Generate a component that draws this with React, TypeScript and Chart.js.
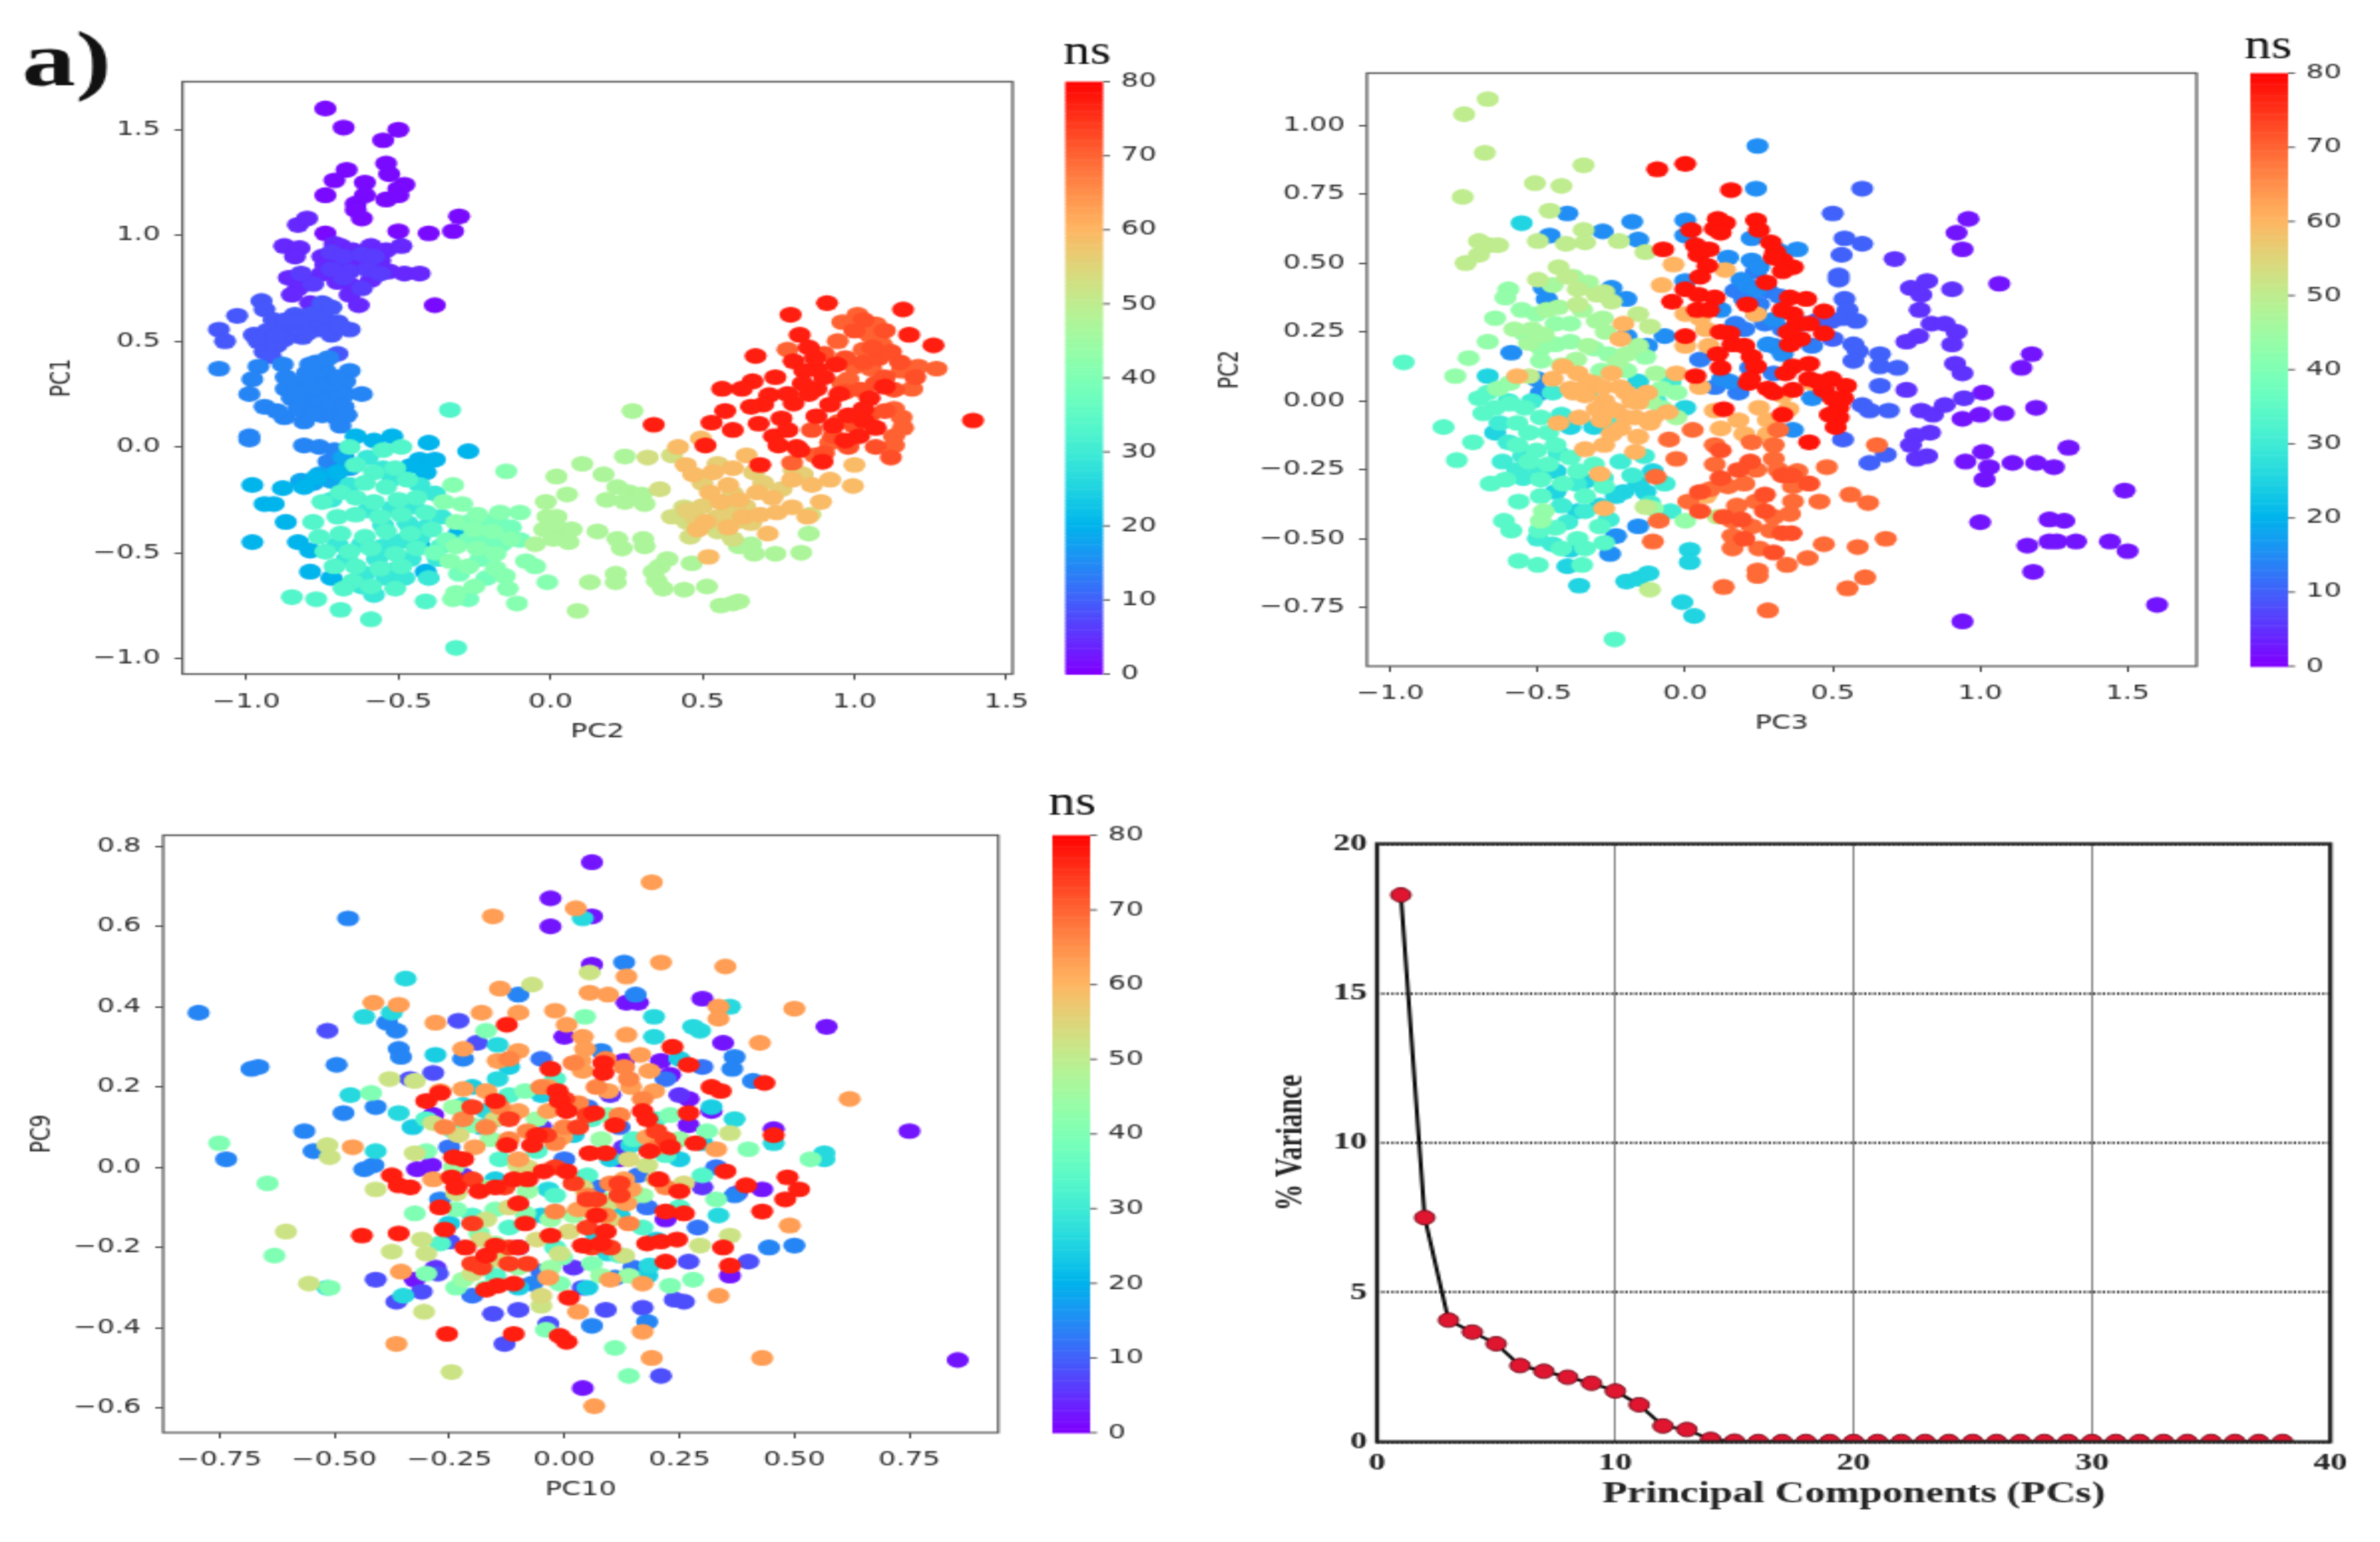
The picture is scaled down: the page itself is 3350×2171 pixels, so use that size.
import React, { useEffect, useRef } from "react";
import { Chart, registerables } from "chart.js";

Chart.register(...registerables);

// [ns, [x, y, x, y, ...]] : PC2 (x) against PC1 (y)
const pc2pc1: [number, number[]][] = [
  [1, [-.74,1.60,-.68,1.51,-.50,1.50,-.55,1.45,-.54,1.34,-.67,1.31,-.53,1.29,-.71,1.26,-.61,1.25,-.48,1.24,-.50,1.22,-.61,1.19,-.74,1.19,-.54,1.17,-.50,1.19,-.64,1.15,-.64,1.12,-.62,1.08,-.30,1.09,-.32,1.02,-.40,1.01,-.50,1.02,-.74,1.01,-.38,.67]],
  [4, [-.83,1.05,-.80,1.08,-.875,.95,-.825,.94,-.84,.90,-.75,.90,-.71,.96,-.69,.95,-.65,.93,-.59,.95,-.54,.93,-.49,.95,-.74,.86,-.69,.87,-.64,.89,-.61,.86,-.56,.88,-.53,.83,-.48,.82,-.43,.82,-.75,.82,-.70,.78,-.65,.76,-.59,.79,-.66,.72,-.63,.67,-.86,.80,-.81,.80,-.83,.75,-.85,.72,-.79,.68,-.74,.67]],
  [6, [-.72,.92,-.68,.90,-.66,.83,-.62,.91,-.58,.90,-.60,.84,-.68,.80,-.72,.84,-.56,.82,-.78,.77,-.82,.82,-.62,.75]],
  [9, [-.95,.69,-.94,.65,-1.03,.62,-1.09,.555,-1.07,.50,-.91,.60,-.84,.625,-.875,.555,-.825,.58,-.79,.60,-.74,.60,-.70,.59,-.66,.555,-.77,.555,-.72,.53,-.815,.52,-.875,.51,-.975,.53,-.96,.50,-.94,.45,-.70,.44,-.85,.58,-.80,.54,-.76,.58,-.73,.55,-.69,.57,-.87,.60,-.93,.55,-.90,.48,-.82,.60,-.78,.63,-.75,.68,-.72,.66,-.92,.43,-.90,.53]],
  [14, [-1.09,.37,-.96,.38,-.98,.32,-.99,.25,-.94,.19,-.88,.39,-.87,.33,-.87,.275,-.85,.23,-.875,.14,-.81,.12,-.79,.39,-.77,.33,-.80,.29,-.75,.275,-.71,.25,-.66,.36,-.675,.31,-.675,.25,-.62,.25,-.81,.23,-.76,.22,-.80,.17,-.75,.15,-.70,.135,-.69,.10,-.99,.05,-.99,.035,-.81,.007,-.76,0,-.71,-.015,-.73,-.07,-.69,-.085,-.83,.30,-.78,.28,-.73,.30,-.83,.18,-.78,.16,-.72,.19,-.80,.35,-.74,.36,-.70,.33,-.68,.19,-.77,.40,-.73,.42,-.90,.17,-.84,.26,-.67,.15]],
  [18, [-.68,-.05,-.76,-.13,-.72,-.16,-.78,-.17,-.66,-.10,-.82,-.16]],
  [20, [-.98,-.18,-.88,-.195,-.81,-.19,-.77,-.145,-.94,-.27,-.91,-.27,-.87,-.355,-.98,-.45,-.83,-.45,-.79,-.49,-.79,-.59,-.72,-.62,-.70,-.12,-.64,.05,-.58,.03,-.52,.05,-.40,.02,-.27,-.02,-.43,-.06,-.38,-.06,-.46,-.09,-.41,-.12,-.30,-.405,-.43,-.47,-.41,-.59]],
  [29, [-.72,-.25,-.66,-.18,-.60,-.05,-.55,-.10,-.52,-.15,-.60,-.30,-.55,-.37,-.47,-.36,-.52,-.29,-.48,-.44,-.55,-.47,-.62,-.46,-.70,-.46,-.67,-.53,-.57,-.53,-.50,-.45,-.43,-.43,-.41,-.38,-.45,-.28,-.36,-.33,-.38,-.22,-.43,-.18,-.51,-.58,-.46,-.53,-.61,-.60,-.54,-.62,-.58,-.70,-.62,-.66,-.37,-.53,-.40,-.62,-.48,-.62]],
  [33, [-.33,.175,-.66,0,-.55,-.015,-.49,0,-.64,-.085,-.58,-.12,-.51,-.10,-.61,-.17,-.54,-.19,-.47,-.155,-.69,-.215,-.75,-.26,-.64,-.24,-.58,-.26,-.50,-.25,-.44,-.24,-.78,-.355,-.70,-.33,-.64,-.32,-.56,-.33,-.49,-.32,-.41,-.31,-.76,-.425,-.69,-.41,-.61,-.425,-.54,-.40,-.46,-.41,-.39,-.39,-.74,-.495,-.66,-.495,-.59,-.48,-.51,-.505,-.44,-.48,-.36,-.47,-.71,-.565,-.64,-.565,-.56,-.575,-.49,-.565,-.65,-.635,-.59,-.66,-.68,-.67,-.51,-.67,-.85,-.71,-.77,-.72,-.69,-.77,-.59,-.815,-.41,-.73,-.31,-.95]],
  [38, [-.27,-.44,-.21,-.44,-.17,-.36,-.13,-.38,-.22,-.35,-.16,-.46,-.10,-.44,-.28,-.36,-.23,-.53,-.34,-.44,-.38,-.50,-.30,-.60,-.21,-.62,-.27,-.72]],
  [41, [-.32,-.18,-.145,-.115,-.35,-.26,-.29,-.27,-.24,-.32,-.165,-.31,-.10,-.31,-.31,-.355,-.25,-.39,-.19,-.40,-.13,-.435,-.31,-.47,-.24,-.48,-.18,-.505,-.33,-.54,-.27,-.565,-.18,-.575,-.08,-.54,-.05,-.565,-.15,-.61,-.14,-.67,-.25,-.66,-.31,-.69,-.11,-.74,-.01,-.64,-.32,-.72]],
  [47, [.02,-.14,.105,-.08,.175,-.13,-.015,-.26,-.01,-.33,.02,-.33,-.02,-.39,.035,-.39,.07,-.39,.01,-.435,.06,-.45,-.05,-.46,.155,-.40,.13,-.64,.09,-.775,.22,-.435,.235,-.48,.305,-.435,.31,-.47,.215,-.60,.215,-.64,.055,-.225,.185,-.25,.22,-.19,.26,-.215,.30,-.225,.245,-.26,.31,-.27,.27,.17,.245,-.045,.385,-.53,.36,-.565,.34,-.59,.35,-.635,.37,-.67,.44,-.675,.515,-.66,.465,-.55,.56,-.75,.60,-.74,.62,-.73,.66,-.46,.62,-.47,.67,-.505,.74,-.505,.825,-.50,.85,-.41]],
  [53, [.32,-.05,.40,-.04,.36,-.20,.40,-.33,.44,-.285,.45,-.355,.46,-.425,.55,-.40,.60,-.435,.855,-.32]],
  [56, [.50,-.28,.55,-.33,.58,-.30,.60,-.22,.64,-.28,.67,-.12,.55,-.08,.50,-.17,.45,-.30,.48,-.34,.62,-.35,.57,-.34,.66,-.36,.70,-.17,.76,-.20,.80,-.11,.83,-.13]],
  [59, [.445,-.085,.42,0,.495,.04,.47,-.13,.535,-.12,.60,-.10,.645,-.04,.585,-.18,.525,-.215,.56,-.26,.62,-.25,.68,-.215,.51,-.355,.635,-.33,.69,-.32,.73,-.24,.745,-.31,.795,-.285,.845,-.33,.89,-.26,.715,-.41,.585,-.38,.485,-.39,.52,-.52,.795,-.155,.86,-.18,.92,-.155,.995,-.185,1.0,-.085]],
  [70, [1.13,.007,1.16,.09,1.13,.05,.92,.02,.87,-.04,.795,-.075,1.0,.38,.96,.30,1.055,.37,1.155,.36,1.19,.275,1.27,.37,1.21,.38,1.01,.625,.96,.59,1.07,.58,1.05,.53,1.09,.485,1.03,.46,.945,.50,.78,.46,.98,.32,1.155,.14,1.13,.18]],
  [72, [.97,.42,1.03,.40,1.08,.42,1.07,.30,1.10,.33,1.13,.27,1.05,.15,1.10,.17,1.00,.10,.95,.12,.93,.05,.98,0,1.07,0,1.12,-.05,.90,-.03,.86,.08,1.15,.40,1.20,.33,1.06,.47,1.10,.55,1.12,.45,1.00,.55,1.03,.60,.90,.44,.97,.26,1.02,.27]],
  [77, [.91,.68,.79,.625,1.16,.65,.82,.53,1.18,.53,1.26,.48,.675,.43,1.39,.125,.80,.405,.875,.37,.94,.39,.835,.36,.74,.33,.665,.31,.565,.275,.63,.275,.72,.245,.875,.275,.95,.25,1.10,.285,1.05,.23,.575,.17,.53,.115,.34,.105,.60,.08,.685,.11,.76,.135,.80,.205,.875,.145,1.03,.18,.735,.05,.75,.007,.81,0,1.015,.05,.51,.007,.69,-.085,.895,-.07,.82,-.015,1.03,.125,.85,.25,.83,.30,.90,.33,.92,.20,.98,.15,.93,.10,.78,.08,.70,.20,.66,.19,.78,.25,.97,.03,1.07,.09,.87,.42,.85,.47]],
];

// PC3 (x) against PC2 (y)
const pc3pc2: [number, number[]][] = [
  [2, [.94,-.80,1.60,-.74,1.49,-.325,1.0,-.44,1.30,-.17,.95,-.22,1.01,-.185,1.03,-.24,1.015,-.285,1.11,-.225,1.19,-.225,1.25,-.24,1.235,-.43,1.285,-.435,1.16,-.525,1.235,-.51,1.26,-.51,1.325,-.51,1.44,-.51,1.50,-.545,1.18,-.62,.96,.66,.92,.61,.94,.55,1.065,.425,1.175,.17,1.14,.12,1.19,-.025,1.08,-.045,1.01,.03,1.0,-.05,.94,-.065]],
  [5, [.71,.515,.905,.405,.765,.41,.82,.435,.80,.385,.795,.33,.835,.28,.88,.28,.92,.25,.79,.235,.75,.215,.905,.205,.915,.135,.94,.10,.945,.01,.75,.04,.80,-.035,.84,-.05,.88,-.015,.83,-.115,.78,-.125,.765,-.16,.785,-.21,.82,-.20]],
  [10, [.60,.77,.50,.68,.54,.59,.60,.57,.53,.53,.52,.455,.52,.44,.54,.37,.55,.33,.535,.30,.58,.29,.50,.225,.57,.205,.585,.18,.66,.17,.57,.145,.72,.12,.66,.125,.66,.055,.60,-.015,.69,-.035,.625,-.035,.535,-.14,.625,-.225,.68,-.195,.495,.29,.445,.29]],
  [13, [.17,.40,.24,.47,.28,.40,.20,.37,.25,.35,.32,.38,.17,.28,.20,.26,.27,.28,.33,.26,.30,.20,.22,.12,.10,.05,.18,.03,.30,.10,.43,.20,.40,.28,.05,.15]],
  [15, [.245,.925,.24,.77,-.40,.68,-.46,.60,-.28,.615,-.18,.65,-.16,.585,0,.655,0,.60,.225,.59,.145,.52,.225,.51,.25,.485,.38,.55,.315,.545,.19,.44,.21,.42,.24,.405,0,.435,.12,.33,.24,.315,.30,.295,.28,.205,.33,.17,.125,.08,.15,.07,-.20,.235,-.07,.235,-.59,.175,-.48,.41,-.47,.37,-.25,.41,-.20,.37,.43,.01,.365,-.105,-.16,-.455,-.235,-.49,-.255,-.555,-.49,.03,-.505,.08,-.13,.2]],
  [25, [-.555,.645,-.67,.09,.015,-.54,.015,-.585,-.01,-.73,.03,-.78,-.20,-.655,-.16,-.645,-.125,-.625,-.40,-.60,-.36,-.67,-.135,-.33,-.16,-.30,-.21,-.33,-.34,-.29,-.365,-.40,-.29,-.38,-.235,-.345,-.44,-.33,-.44,-.255,-.11,-.255,-.39,-.095,-.31,-.095,-.16,.07,0,-.025,-.645,-.115,-.39,-.54]],
  [30, [-.55,-.20,-.50,-.24,-.43,-.19,-.55,-.28,-.42,-.38,-.34,-.40,-.37,-.30,-.28,-.28,-.22,-.22,-.14,-.20,-.18,-.27,-.12,-.37,-.05,-.40,-.07,-.30,-.26,-.43,-.40,-.44,-.50,-.50,-.45,-.52,-.60,-.15,-.62,-.22,-.57,-.25,-.63,-.08,-.60,0,-.52,0,-.45,.03,-.42,-.05,-.33,.03,-.10,0,-.05,.07,-.25,-.08]],
  [34, [-.955,.14,-.82,-.095,-.775,-.215,-.72,-.15,-.70,.01,-.685,-.045,-.66,-.30,-.61,-.285,-.565,-.365,-.615,-.435,-.59,-.47,-.495,-.47,-.44,-.46,-.42,-.535,-.365,-.50,-.34,-.535,-.565,-.58,-.50,-.595,-.35,-.595,-.275,-.515,-.24,-.865,-.595,-.01,-.545,-.025,-.49,-.06,-.57,-.08,-.53,-.115,-.465,-.115,-.57,-.16,-.505,-.18,-.44,-.16,-.53,-.22,-.465,-.23,-.39,-.205,-.365,-.255,-.31,-.23,-.49,-.285,-.415,-.30,-.275,-.31,-.34,-.345,-.49,-.345,-.29,-.455,-.67,.03,-.645,-.025]],
  [43, [-.735,.155,-.78,.09,-.645,.30,-.60,.405,-.61,.375,-.67,.215,-.555,.33,-.505,.315,-.545,.245,-.49,.19,-.44,.28,-.39,.28,-.44,.205,-.39,.215,-.49,.145,-.31,.19,-.26,.17,-.135,.16,-.285,.11,-.20,.11,-.08,.045,-.03,.03,-.08,-.025,-.11,-.39,0,-.435,-.48,-.40,-.49,-.435,-.635,.045,-.595,.065]],
  [46, [-.58,.26,-.52,.26,-.47,.33,-.43,.34,-.35,.33,-.30,.29,-.27,.25,-.33,.20,-.37,.15,-.42,.13,-.48,.24,-.53,.21,-.45,.42,-.38,.45,-.33,.43,-.28,.30,-.20,.17,-.16,.20,-.10,.10,-.23,.14,-.12,0,-.03,-.06]],
  [50, [-.67,1.095,-.75,1.04,-.68,.90,-.345,.855,-.755,.74,-.51,.79,-.42,.78,-.46,.69,-.70,.58,-.665,.565,-.635,.565,-.70,.53,-.745,.50,-.50,.58,-.405,.57,-.345,.62,-.34,.575,-.225,.58,-.135,.54,-.43,.485,-.40,.45,-.50,.44,-.365,.405,-.30,.385,-.275,.395,-.25,.36,-.365,.35,-.16,.315,-.12,.27,-.53,.09,.11,-.42,-.12,-.685,-.135,-.385]],
  [60, [-.04,.495,-.08,.42,-.57,.09,-.415,.125,-.365,.10,-.31,.065,-.39,.045,-.34,.02,-.275,0,-.20,.03,-.16,-.005,-.235,-.035,-.20,-.06,-.285,-.07,-.11,-.06,-.43,-.08,-.34,-.175,-.275,-.16,-.16,-.13,-.21,.28,-.22,.225,0,.315,.07,.26,.135,.475,.07,-.345,-.275,-.39,-.29,-.265,-.17,-.185,.24,.315,.43,.065,.25,-.025,.28,-.07,.10,-.035,-.45,.08,-.38,.03,-.33,.07,-.28,.05,-.25,.10,-.22,.05,-.30,-.03,-.36,-.06,-.25,-.03,-.18,0,-.13,.03,-.12,-.08,-.25,-.12,-.22,-.10,-.17,-.06,-.06,-.04,0,.20,.05,.30,.08,.20,-.03,.10,.05,.05,.12,-.10,.18,-.07,.20,-.12,.28,-.12,.35,-.03,.33,.02]],
  [69, [.025,-.105,-.055,-.14,-.03,-.21,-.10,-.275,.10,-.16,.10,-.23,.225,-.15,.315,-.105,.30,-.16,.30,-.21,.24,-.25,.315,-.25,.38,-.255,.48,-.24,.365,-.31,.085,-.32,.145,-.31,.01,-.365,.20,-.30,.175,-.38,.24,-.365,.365,-.365,.455,-.365,.56,-.34,.62,-.37,.16,-.435,.30,-.42,.355,-.41,.225,-.455,.29,-.47,.16,-.49,.16,-.535,.25,-.535,.47,-.52,.585,-.53,.68,-.50,.415,-.57,.345,-.595,.245,-.615,.245,-.635,.61,-.64,.55,-.68,.13,-.675,.28,-.76,-.11,-.51,-.09,-.435,.65,-.16]],
  [72, [.05,-.33,.12,-.28,.22,-.22,.18,-.25,.33,-.27,.27,-.34,.42,-.30,.36,-.27,.19,-.43,.27,-.40,.33,-.48,.20,-.50,.05,-.40,.13,-.42,.12,-.18,.30,-.55,.36,-.48]],
  [78, [-.095,.84,0,.86,.155,.765,-.075,.55,.11,.66,.135,.645,.10,.625,.24,.655,.02,.62,.035,.565,.045,.53,.075,.49,.29,.575,.305,.54,.33,.51,.365,.485,.275,.43,0,.405,-.045,.36,.045,.385,.10,.375,.21,.35,.355,.375,.41,.37,.365,.315,.47,.325,.38,.28,.39,.225,.47,.245,.355,.205,0,.235,.15,.245,.16,.205,.11,.17,.225,.16,.24,.125,.365,.125,.42,.135,.34,.10,.215,.065,.28,.045,.365,.04,.495,.08,.545,.055,.535,.01,.13,-.03,.52,-.025,.52,-.06,.51,-.095,.47,.04,.035,.09,.42,-.15,.05,.45,.12,.61,.25,.62,.30,.52,.33,.47,.08,.55,.04,.33,.08,.33,.12,.25,.20,.20,.33,.33,.35,.25,.42,.28,.12,.12,.22,.08,.30,.03,.42,.08,.50,.01,.49,-.05,.45,.07,.33,-.05]],
];

// PC10 (x) against PC9 (y)
const pc10pc9: [number, number[]][] = [
  [2, [.06,.76,-.03,.67,.06,.625,-.03,.60,.06,.505,.57,.35,.75,.09,.855,-.48,.04,-.55,.30,.42,.135,.41,.16,.41,.345,.31,.13,.265,.23,.23,.27,.17,.32,.14,.455,.095,.36,-.27,-.325,-.28,0,.325,-.32,-.005,-.29,.005,.21,.265,.22,-.13,.27,.105,.43,-.055,.12,.02,-.285,.13]],
  [5, [-.05,.10,.13,.05,.20,.08,-.10,-.20,.02,-.25,.30,-.05,-.22,-.02,.10,.18,.25,.18,-.28,-.25]],
  [8, [.04,-.30,.21,-.52,.24,-.33,.26,-.335,.40,-.235,-.155,-.365,-.10,-.355,-.13,-.44,-.035,-.39,.09,-.355,.17,-.35,-.41,-.28,-.365,-.335,-.31,-.31,-.275,-.265,-.25,-.185,-.515,.34,-.285,.235,-.19,.31,-.23,.365,-.335,.22,.27,-.235,.375,-.065]],
  [12, [-.25,.05,-.15,.12,0,.02,.07,-.05,.12,.10,.22,.22,.30,.25,.18,-.10,.15,-.25,-.20,-.32,-.05,-.26,.29,-.15,.33,0,-.05,.27,.05,.15,.16,-.02]],
  [14, [-.795,.385,-.47,.62,-.68,.245,-.665,.25,-.735,.02,-.565,.09,-.545,.04,-.495,.255,-.41,.15,-.48,.135,-.385,.36,-.365,.34,-.36,.295,-.355,.275,-.22,.27,.13,.51,-.10,.43,.155,.43,.37,.275,.365,.245,.41,.215,.50,-.195,.445,-.20,.18,-.385,.06,-.395,-.415,.005,-.435,-.005,.08,.29,-.27,-.08,-.07,-.29,.11,-.275,.37,-.07]],
  [24, [-.28,.28,-.20,.20,-.12,.25,-.05,.18,.02,.08,.10,.02,.25,.02,.30,.06,.12,-.12,.20,-.18,.07,-.17,-.05,-.12,-.15,-.03,-.25,-.14,-.33,.10,-.18,.10,.25,.27,.32,.15,-.10,-.30,.05,-.30,.18,-.27]],
  [26, [-.345,.47,-.435,.375,-.375,.385,.04,.62,-.145,.305,-.465,.18,-.36,.135,.37,.12,.565,.035,.565,.02,-.515,-.30,-.35,-.32,.195,.375,.195,.325,.295,.34,.28,.35,.335,-.12,.185,-.245,.36,.40,.455,.06,-.41,.04,-.22,.155,-.17,.14,.145,.055,-.035,-.055,.095,-.215,-.145,.22]],
  [33, [-.30,.12,-.24,.09,-.14,.02,-.06,.04,.05,-.02,.15,.07,.22,.03,.30,-.02,.25,-.10,.17,-.15,.05,-.10,-.02,-.07,-.12,-.15,-.20,-.12,-.27,-.19,-.15,-.27,-.02,-.20,.12,-.22,.20,.12,-.02,.22,-.12,.18,.06,.12]],
  [40, [-.75,.06,-.645,-.04,-.63,-.22,-.51,-.30,-.42,.185,-.17,.34,.045,.375,-.04,-.405,.11,-.45,.14,-.52,.23,-.295,.28,-.28,.40,.045,.535,.02,.33,-.08,-.30,.04,-.325,-.115,-.235,-.105,-.185,-.165,-.15,-.105,-.085,-.115,-.17,-.24,-.005,-.225,.06,-.24,-.085,.19,.095,.13,.23,.13,.31,.09,-.20,.105,-.30,-.265,-.235,-.30,-.17,-.30,-.01,-.29]],
  [44, [-.24,0,-.17,-.05,-.08,-.06,-.03,-.13,.02,-.12,.10,-.08,.17,-.07,.08,-.27,-.15,-.19,-.22,-.28,-.10,-.25,-.03,-.25,.14,-.27,.25,.07,.08,.07,-.06,.12,-.16,.07,-.24,.15]],
  [52, [-.245,-.51,-.555,-.29,-.605,-.16,-.515,.055,-.51,.025,-.38,.22,-.325,.215,-.305,-.36,-.41,-.055,-.375,-.21,-.31,-.18,-.30,-.215,-.20,-.265,-.07,.455,.055,.485,-.325,.035,-.285,.11,.295,-.195,.36,-.17,-.235,-.065,-.17,-.13,-.10,.005,-.01,-.215,.095,-.09,.18,.005,-.05,-.345,.13,-.22,.36,.085]],
  [54, [-.18,-.18,-.12,-.10,-.06,-.18,.01,-.16,.10,-.13,.20,-.03,.04,-.05,-.02,.08,-.15,.12,-.23,.08,.14,.02,.26,-.04,-.08,0,-.14,-.23,-.05,-.32]],
  [63, [.19,.71,.025,.645,-.155,.625,.21,.51,.35,.50,.135,.475,-.14,.445,-.415,.41,-.36,.405,-.18,.385,-.28,.36,-.10,.385,-.02,.39,.055,.435,.095,.43,.335,.40,.335,.37,.50,.395,.005,.355,.425,.31,.04,.325,.045,.295,.035,.265,.135,.33,.165,.28,-.22,.295,-.10,.29,-.145,.265,.04,.24,.185,.24,.62,.17,-.27,.19,-.22,.195,-.17,.19,-.035,.20,.095,.19,.145,.20,.195,.19,-.46,.05,-.195,.05,-.10,.14,-.035,.14,-.005,.075,.33,.045,.18,.075,-.10,.02,.13,-.03,.145,-.055,.065,-.115,.03,-.105,-.285,-.03,.49,-.145,.43,-.475,.19,-.475,.065,-.595,.17,-.41,.335,-.32,-.365,-.44,.10,-.28,-.035,-.275,.03,-.36,.17,-.29,-.355,-.26,.135,-.09]],
  [66, [-.22,.12,-.14,.15,-.08,.09,-.02,.06,.03,.16,.07,.20,.12,.13,.14,.22,.17,.17,.20,.05,.02,.26,-.17,.10,-.12,.07,-.05,.20,0,.10,.05,-.07,-.02,-.11,.10,-.04,.14,-.14,.22,-.05,-.26,.10,.09,-.12,-.12,.27,.09,.27,.13,.25]],
  [74, [-.20,.15,-.12,.12,-.04,.08,0,.17,.05,.13,.02,-.04,-.02,0,-.13,-.05,-.20,-.03,.05,-.08,.12,-.07,.07,-.08,-.20,-.14,-.12,-.20,.10,-.20,.06,-.20,.05,-.15,-.08,-.24,-.20,-.24,-.18,-.25,-.12,-.24,.22,.07,.20,.09,.03,.10,.12,-.04]],
  [77, [-.125,.355,-.03,.245,.085,.26,.085,.235,.235,.30,.27,.255,.32,.20,.34,.19,.435,.21,-.015,.19,-.01,.165,-.30,.165,-.27,.185,-.15,.165,.005,.14,.065,.135,.11,.105,.17,.14,.18,.12,.27,.135,.455,.08,-.06,.08,-.07,.055,-.125,.055,.23,.05,.185,.04,.285,.06,.055,.035,.09,.035,-.24,.025,-.22,.02,.35,-.01,.395,-.045,.485,-.025,.51,-.055,.48,-.08,-.375,-.02,-.36,-.045,-.335,-.05,-.245,-.025,-.235,-.05,-.185,-.06,-.15,-.05,-.11,-.03,-.08,-.03,-.045,-.01,.005,-.01,-.10,-.09,-.27,-.10,-.26,-.155,-.085,-.14,.07,-.12,.09,-.16,.205,-.03,.25,-.06,.22,-.11,.26,-.115,.43,-.11,-.44,-.17,-.36,-.165,-.215,-.20,-.17,-.22,-.15,-.195,-.10,-.20,-.03,-.17,.04,-.195,.08,-.19,.18,-.19,.21,-.185,.245,-.18,.345,-.20,.22,-.235,.36,-.245,-.17,-.305,-.145,-.295,-.11,-.29,.01,-.325,-.255,-.415,-.11,-.415,.005,-.435,-.01,-.42]],
];

const pcIndex = [1,2,3,4,5,6,7,8,9,10,11,12,13,14,15,16,17,18,19,20,21,22,23,24,25,26,27,28,29,30,31,32,33,34,35,36,37,38];
const pcVariance = [18.29,7.5,4.07,3.67,3.28,2.55,2.36,2.16,1.96,1.7,1.24,.53,.41,.08,.02,.01,.01,.01,.01,.01,.01,.01,.01,.01,.01,.01,.01,.01,.01,.01,.01,.01,.01,.01,.01,.01,.01,.01];
const colourbarTicks = [0, 10, 20, 30, 40, 50, 60, 70, 80];

const SX = 2.8;
const SY = 2;
const W = 598;
const H = 543;

const rainbow = (t: number) => {
  const r = Math.min(1, Math.abs(2 * t - 0.5));
  const g = Math.sin(t * Math.PI);
  const b = Math.cos((t * Math.PI) / 2);
  return `rgb(${Math.round(r * 255)},${Math.round(g * 255)},${Math.round(b * 255)})`;
};

const minusFmt = (d: number) => (v: number | string) => Number(v).toFixed(d).replace("-", "\u2212");

const scatterSets = (groups: [number, number[]][]) =>
  groups.map(([ns, xy]) => {
    const data: { x: number; y: number }[] = [];
    for (let i = 0; i < xy.length; i += 2) data.push({ x: xy[i], y: xy[i + 1] });
    return { data, pointRadius: 5.6, pointBorderWidth: 0, pointBackgroundColor: rainbow(ns / 80), order: 100 - ns };
  });

type Txt = { text: string; x: number; y: number; font: string; maxWidth?: number; align?: CanvasTextAlign };

const decorPlugin = (opts: { frame: string; frameW: number; bar?: [number, number]; texts?: Txt[] }) => ({
  id: "decor",
  afterDatasetsDraw(chart: any) {
    const { ctx, chartArea: a } = chart;
    ctx.save();
    ctx.strokeStyle = opts.frame;
    ctx.lineWidth = opts.frameW;
    ctx.strokeRect(a.left, a.top, a.right - a.left, a.bottom - a.top);
    if (opts.bar) {
      const s = chart.scales.cb;
      const [x0, x1] = opts.bar;
      for (let v = 0; v < 80; v += 0.5) {
        const yA = s.getPixelForValue(v);
        const yB = s.getPixelForValue(v + 0.5);
        ctx.fillStyle = rainbow(v / 80);
        ctx.fillRect(x0, yB, x1 - x0, yA - yB + 0.5);
      }
      ctx.strokeStyle = "#555";
      ctx.lineWidth = 1;
      colourbarTicks.forEach((v) => {
        const y = s.getPixelForValue(v);
        ctx.beginPath();
        ctx.moveTo(x1, y);
        ctx.lineTo(x1 + 3.5, y);
        ctx.stroke();
      });
    }
    (opts.texts || []).forEach((t) => {
      ctx.fillStyle = "#111";
      ctx.font = t.font;
      ctx.textAlign = t.align || "center";
      ctx.textBaseline = "alphabetic";
      if (t.maxWidth) ctx.fillText(t.text, t.x, t.y, t.maxWidth);
      else ctx.fillText(t.text, t.x, t.y);
    });
    ctx.restore();
  },
});

const tickFont = { family: '"DejaVu Sans"', size: 14 };
const tickColor = "#2a2a2a";
const markGrid = { drawOnChartArea: false, drawTicks: true, tickLength: 4, color: "#444", tickWidth: 1 };

function scatterConfig(p: {
  groups: [number, number[]][];
  xr: [number, number]; yr: [number, number];
  xStep: number; yStep: number; xDec: number; yDec: number;
  xTitle: string; yTitle: string;
  left: number; right: number; top: number; bottom: number;
  yTitleX: number; xTitleY: number; barX: number; nsX: number; nsY: number; extra?: Txt[];
}) {
  const bar: [number, number] = [p.barX, p.barX + 19];
  const xH = p.xTitleY + 8.4 - p.bottom;
  return {
    type: "scatter",
    data: { datasets: scatterSets(p.groups) },
    plugins: [decorPlugin({
      frame: "#555", frameW: 1.2, bar,
      texts: [{ text: "ns", x: p.nsX, y: p.nsY, font: '30px "Liberation Serif"', maxWidth: 24 }, ...(p.extra || [])],
    })],
    options: {
      animation: false, responsive: false, devicePixelRatio: 1, events: [],
      layout: { padding: { left: p.yTitleX - 8.4, top: p.top, right: 0, bottom: H - p.bottom - xH } },
      plugins: { legend: { display: false }, tooltip: { enabled: false }, title: { display: false } },
      scales: {
        x: {
          type: "linear", min: p.xr[0], max: p.xr[1], position: "bottom",
          afterFit: (s: any) => { s.height = xH; },
          grid: markGrid, border: { display: false },
          ticks: { stepSize: p.xStep, includeBounds: false, autoSkip: false, maxRotation: 0, padding: 7, font: tickFont, color: tickColor, callback: minusFmt(p.xDec) },
          title: { display: true, text: p.xTitle, font: tickFont, color: tickColor, padding: 0 },
        },
        y: {
          type: "linear", min: p.yr[0], max: p.yr[1], position: "left",
          afterFit: (s: any) => { s.width = p.left - (p.yTitleX - 8.4); },
          grid: markGrid, border: { display: false },
          ticks: { stepSize: p.yStep, includeBounds: false, autoSkip: false, padding: 7, font: tickFont, color: tickColor, callback: minusFmt(p.yDec) },
          title: { display: true, text: p.yTitle, font: tickFont, color: tickColor, padding: 0 },
        },
        cb: {
          type: "linear", min: 0, max: 80, position: "right",
          afterFit: (s: any) => { s.width = W - p.right; },
          grid: { display: false, drawTicks: true, tickLength: bar[1] - p.right + 6 }, border: { display: false },
          ticks: { stepSize: 10, autoSkip: false, padding: 3, font: tickFont, color: tickColor },
        },
      },
    },
  };
}

const serifBold = '"Liberation Serif"';

const configs: { left: number; top: number; cfg: () => any }[] = [
  {
    left: 0, top: 0,
    cfg: () => scatterConfig({
      groups: pc2pc1, xr: [-1.21, 1.52], yr: [-1.074, 1.727], xStep: 0.5, yStep: 0.5, xDec: 1, yDec: 1,
      xTitle: "PC2", yTitle: "PC1", left: 91.7, right: 509, top: 57.5, bottom: 474.5,
      yTitleX: 31.4, xTitleY: 515, barX: 535.5, nsX: 546.5, nsY: 45.4,
      extra: [{ text: "a)", x: 11, y: 60, font: `bold 54px ${serifBold}`, align: "left" }],
    }),
  },
  {
    left: 1675, top: 0,
    cfg: () => scatterConfig({
      groups: pc3pc2, xr: [-1.08, 1.734], yr: [-0.9625, 1.189], xStep: 0.5, yStep: 0.25, xDec: 1, yDec: 2,
      xTitle: "PC3", yTitle: "PC2", left: 88.9, right: 506, top: 51.5, bottom: 469,
      yTitleX: 20, xTitleY: 509, barX: 533, nsX: 542, nsY: 41,
    }),
  },
  {
    left: 0, top: 1085,
    cfg: () => scatterConfig({
      groups: pc10pc9, xr: [-0.872, 0.943], yr: [-0.661, 0.827], xStep: 0.25, yStep: 0.2, xDec: 2, yDec: 1,
      xTitle: "PC10", yTitle: "PC9", left: 82, right: 501.8, top: 45.5, bottom: 466,
      yTitleX: 21, xTitleY: 506.5, barX: 529, nsX: 539, nsY: 30.7,
    }),
  },
  {
    left: 1675, top: 1085,
    cfg: () => {
      const bFont = { family: serifBold, size: 17, weight: "bold" as const };
      const tFont = { family: serifBold, size: 19, weight: "bold" as const };
      const xtFont = { family: serifBold, size: 20.7, weight: "bold" as const };
      const plotL = 94, plotR = 573.2, plotT = 51.5, plotB = 472.5;
      const xH = 510 + 12.4 - plotB;
      return {
        type: "line",
        data: {
          datasets: [{
            data: pcIndex.map((x, i) => ({ x, y: pcVariance[i] })),
            borderColor: "#0a0a0a", borderWidth: 2, tension: 0,
            pointRadius: 5, pointBorderWidth: 1, pointBackgroundColor: "#e01530", pointBorderColor: "#7a1222",
          }],
        },
        plugins: [decorPlugin({ frame: "#222", frameW: 2.2 })],
        options: {
          animation: false, responsive: false, devicePixelRatio: 1, events: [],
          layout: { padding: { left: 39.8, top: plotT, right: W - plotR, bottom: H - plotB - xH } },
          plugins: { legend: { display: false }, tooltip: { enabled: false } },
          scales: {
            x: {
              type: "linear", min: 0, max: 40, position: "bottom",
              afterFit: (s: any) => { s.height = xH; },
              grid: { color: "#666", lineWidth: 0.8, drawTicks: false }, border: { display: false },
              ticks: { stepSize: 10, autoSkip: false, maxRotation: 0, padding: 5, font: bFont, color: "#222" },
              title: { display: true, text: "Principal Components (PCs)", font: xtFont, color: "#222", padding: 0 },
            },
            y: {
              type: "linear", min: 0, max: 20, position: "left",
              afterFit: (s: any) => { s.width = plotL - 39.8; },
              grid: { color: "#444", lineWidth: 2, drawTicks: false }, border: { display: false, dash: [1.2, 1.2] },
              ticks: { stepSize: 5, autoSkip: false, padding: 5, font: bFont, color: "#222" },
              title: { display: true, text: "% Variance", font: tFont, color: "#222", padding: 0 },
            },
          },
        },
      };
    },
  },
];

function Panel({ left, top, cfg }: { left: number; top: number; cfg: () => any }) {
  const ref = useRef<HTMLCanvasElement | null>(null);
  useEffect(() => {
    const chart = new Chart(ref.current as HTMLCanvasElement, cfg());
    return () => chart.destroy();
  }, [cfg]);
  return (
    <canvas
      ref={ref}
      width={W}
      height={H}
      style={{ position: "absolute", left, top, transformOrigin: "0 0", transform: `scale(${SX},${SY})` }}
    />
  );
}

export default function App() {
  return (
    <div style={{ position: "absolute", left: 0, top: 0, width: 3350, height: 2171, background: "#fff", overflow: "hidden" }}>
      {configs.map((c, i) => <Panel key={i} left={c.left} top={c.top} cfg={c.cfg} />)}
    </div>
  );
}
